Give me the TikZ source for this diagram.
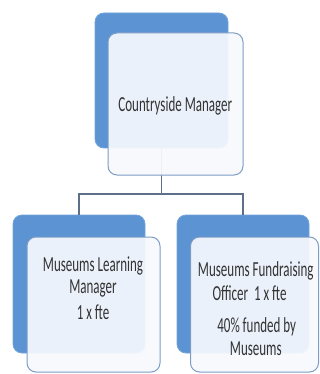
\documentclass[tikz,border=0pt]{standalone}
\usepackage{fontspec}
\setmainfont{Carlito}
\definecolor{backblue}{HTML}{5B93D3}
\definecolor{frontedge}{HTML}{7D9CC6}
\definecolor{frontfill}{HTML}{F7F9FD}
\definecolor{linecol}{HTML}{5E7089}
\definecolor{txt}{HTML}{333333}
\newcommand{\talltext}[1]{\scalebox{1}[1.65]{#1}}
\begin{document}
\begin{tikzpicture}[x=1pt,y=-1pt,
  backbox/.style={fill=backblue, draw=backblue!85!white, line width=0.8pt, rounded corners=9pt, inner sep=0pt},
  frontbox/.style={fill=frontfill, fill opacity=0.93, draw=frontedge, draw opacity=1, line width=1pt, rounded corners=9pt, inner sep=0pt},
  label/.style={text=txt, anchor=base, font=\fontsize{13}{15}\selectfont, inner sep=0pt},
  conn/.style={draw=linecol, line width=1.1pt}]
\useasboundingbox (0,0) rectangle (320,374);
% back boxes
\node[backbox, minimum width=133pt, minimum height=135pt] (topback) at (161.5,80.5) {};
\node[backbox, minimum width=132pt, minimum height=138pt] (leftback) at (79,284) {};
\node[backbox, minimum width=132pt, minimum height=138pt] (rightback) at (243,284) {};
% connectors
\coordinate (junction) at (161.5,194);
\draw[conn] (topback.south) -- (junction);
\draw[conn] (leftback.north) |- (junction) -| (rightback.north);
% front boxes
\node[frontbox, minimum width=135pt, minimum height=142pt] (topfront) at (175.5,104) {};
\node[frontbox, minimum width=133pt, minimum height=135pt] (leftfront) at (93.5,304.5) {};
\node[frontbox, minimum width=128pt, minimum height=135pt] (rightfront) at (254.5,304.5) {};
% texts
\node[label] (toptext) at (175.3,111.7) {\talltext{Countryside Manager}};
\node[label] (leftline1) at (93,271) {\talltext{Museums Learning}};
\node[label] (leftline2) at (93,293) {\talltext{Manager}};
\node[label] (leftline3) at (93,319) {\talltext{1 x fte}};
\node[label] (rightline1) at (255.8,276.7) {\talltext{Museums Fundraising}};
\node[label] (rightline2) at (249.5,300) {\talltext{Officer\ \ 1 x fte}};
\node[label] (rightline3) at (256.7,332) {\talltext{40\% funded by}};
\node[label] (rightline4) at (255.8,355) {\talltext{Museums}};
\end{tikzpicture}
\end{document}
